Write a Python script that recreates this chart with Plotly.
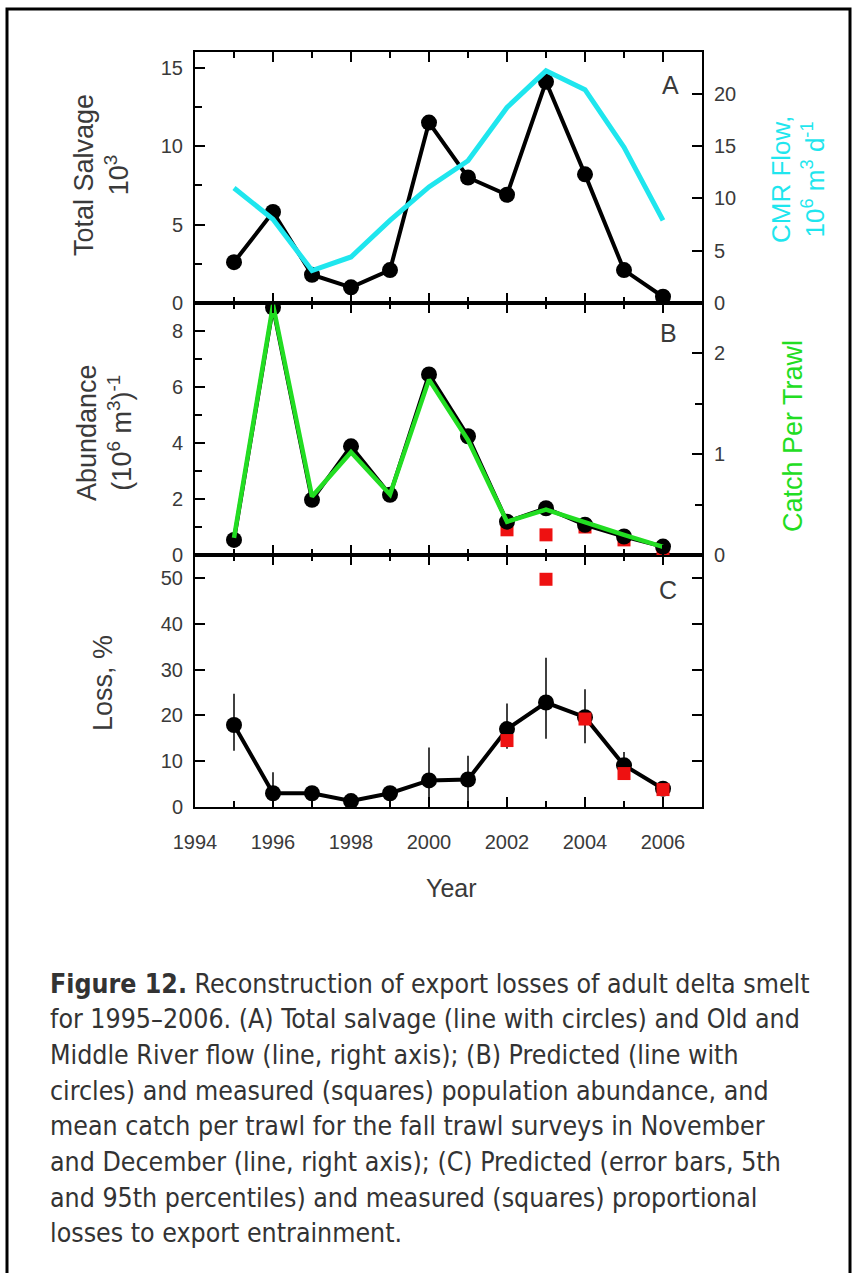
import plotly.graph_objects as go

years = [1995, 1996, 1997, 1998, 1999, 2000, 2001, 2002, 2003, 2004, 2005, 2006]
salvage = [2.6, 5.8, 1.8, 1.0, 2.1, 11.5, 8.0, 6.9, 14.1, 8.2, 2.1, 0.4]
cmr_flow = [11.0, 8.0, 3.1, 4.4, 7.9, 11.1, 13.6, 18.7, 22.2, 20.4, 14.9, 7.9]
abundance_pred = [0.54, 8.84, 1.97, 3.88, 2.15, 6.45, 4.24, 1.19, 1.67, 1.08, 0.66, 0.30]
catch_per_trawl = [0.17, 2.48, 0.58, 1.02, 0.60, 1.74, 1.14, 0.33, 0.45, 0.32, 0.20, 0.08]
meas_years = [2002, 2003, 2004, 2005, 2006]
abundance_meas = [0.90, 0.72, 1.00, 0.54, 0.18]
loss_meas = [14.5, 49.7, 19.2, 7.3, 3.8]
loss_pred = [17.9, 3.0, 3.0, 1.3, 3.0, 5.8, 6.0, 17.0, 22.8, 19.6, 9.1, 4.0]
loss_p95 = [24.7, 7.6, 4.5, 2.0, 4.5, 13.0, 11.2, 22.6, 32.6, 25.7, 12.0, 5.0]
loss_p5 = [12.3, 0.8, 1.5, 0.5, 1.5, 0.5, 0.8, 12.7, 14.9, 13.9, 6.0, 3.0]

caption_lines = [
    "<b>Figure 12.</b> Reconstruction of export losses of adult delta smelt",
    "for 1995–2006. (A) Total salvage (line with circles) and Old and",
    "Middle River flow (line, right axis); (B) Predicted (line with",
    "circles) and measured (squares) population abundance, and",
    "mean catch per trawl for the fall trawl surveys in November",
    "and December (line, right axis); (C) Predicted (error bars, 5th",
    "and 95th percentiles) and measured (squares) proportional",
    "losses to export entrainment.",
]

W, H = 856, 1273
def px(x):
    return x / W
def py(y):
    return 1 - y / H

BLACK = "#000000"
CYAN = "#1fe6ee"
GREEN = "#22dd22"
RED = "#ee1111"
TXT = "#3a3a3a"
FONT = "Liberation Sans, Arial, sans-serif"

fig = go.Figure()

# Panel A
fig.add_trace(go.Scatter(x=years, y=salvage, mode="lines+markers", xaxis="x2", yaxis="y3",
                         line=dict(color=BLACK, width=4), marker=dict(color=BLACK, size=16),
                         name="Total salvage", showlegend=False))
fig.add_trace(go.Scatter(x=years, y=cmr_flow, mode="lines", xaxis="x2", yaxis="y4",
                         line=dict(color=CYAN, width=5), name="CMR flow", showlegend=False))

# Panel B
fig.add_trace(go.Scatter(x=meas_years, y=abundance_meas, mode="markers", xaxis="x3", yaxis="y5",
                         marker=dict(color=RED, size=13, symbol="square"),
                         name="Measured abundance", showlegend=False))
fig.add_trace(go.Scatter(x=years, y=abundance_pred, mode="lines+markers", xaxis="x3", yaxis="y5",
                         line=dict(color=BLACK, width=4), marker=dict(color=BLACK, size=16),
                         name="Predicted abundance", showlegend=False))
fig.add_trace(go.Scatter(x=years, y=catch_per_trawl, mode="lines", xaxis="x3", yaxis="y6",
                         line=dict(color=GREEN, width=4.5), name="Catch per trawl", showlegend=False))

# Panel C
err_plus = [h - p for h, p in zip(loss_p95, loss_pred)]
err_minus = [p - l for p, l in zip(loss_pred, loss_p5)]
fig.add_trace(go.Scatter(x=years, y=loss_pred, mode="lines+markers", xaxis="x", yaxis="y",
                         line=dict(color=BLACK, width=4), marker=dict(color=BLACK, size=16),
                         error_y=dict(type="data", symmetric=False, array=err_plus,
                                      arrayminus=err_minus, color=BLACK, thickness=1.5, width=0),
                         name="Predicted loss", showlegend=False))
fig.add_trace(go.Scatter(x=meas_years, y=loss_meas, mode="markers", xaxis="x", yaxis="y",
                         marker=dict(color=RED, size=13, symbol="square"),
                         name="Measured loss", showlegend=False))

xdom = [px(195), px(702)]
domA = [py(303), py(52)]
domB = [py(555), py(303)]
domC = [py(807), py(555)]

def xax(anchor, labels):
    return dict(domain=xdom, anchor=anchor, range=[1994, 2007], tick0=1994, dtick=2,
                ticks="inside", ticklen=10, tickwidth=1.5, tickcolor=BLACK,
                minor=dict(dtick=1, tick0=1994, ticks="inside", ticklen=6, tickwidth=1.5, tickcolor=BLACK),
                showline=True, linewidth=2, linecolor=BLACK, mirror="ticks",
                showgrid=False, zeroline=False, showticklabels=labels, automargin=False,
                tickfont=dict(family=FONT, size=20, color=TXT), ticklabelstandoff=16)

def yax(dom, rng, dtick, minor_dtick=None, side="left", overlaying=None, anchor="x", mirror=False, labels=True):
    d = dict(range=rng, dtick=dtick, tick0=0, ticks="inside", ticklen=10, tickwidth=1.5, tickcolor=BLACK,
             showline=True, linewidth=2, linecolor=BLACK, mirror=mirror, side=side,
             showgrid=False, zeroline=False, anchor=anchor, showticklabels=labels, automargin=False,
             tickfont=dict(family=FONT, size=20, color=TXT), ticklabelstandoff=6)
    if overlaying:
        d["overlaying"] = overlaying
    else:
        d["domain"] = dom
    if minor_dtick:
        d["minor"] = dict(dtick=minor_dtick, tick0=0, ticks="inside", ticklen=7, tickwidth=1.5, tickcolor=BLACK)
    return d

annotations = []
def ann(text, x, y, size, color=TXT, angle=0, xanchor="center", family=FONT):
    annotations.append(dict(text=text, x=px(x), y=py(y), xref="paper", yref="paper",
                            showarrow=False, textangle=angle, xanchor=xanchor, yanchor="middle",
                            font=dict(family=family, size=size, color=color)))

ann("Total Salvage<br>10<sup>3</sup>", 101, 175, 27, angle=-90)
ann("Abundance<br>(10<sup>6</sup> m<sup>3</sup>)<sup>-1</sup>", 104, 433, 27, angle=-90)
ann("Loss, %", 103, 683, 27, angle=-90)
ann("CMR Flow,<br>10<sup>6</sup> m<sup>3</sup> d<sup>-1</sup>", 798, 180, 26, color=CYAN, angle=-90)
ann("Catch Per Trawl", 793, 436, 27, color=GREEN, angle=-90)
ann("A", 670, 85, 25)
ann("B", 668, 333, 25)
ann("C", 668, 590, 25)
ann("Year", 451, 888, 25)

CAP_FONT = "Liberation Sans Narrow, DejaVu Sans Condensed, Arial Narrow, Roboto, sans-serif"
for i, line in enumerate(caption_lines):
    ann(line, 48, 983 + i * 35.7, 26.5, color="#333333", xanchor="left", family=CAP_FONT)

fig.update_layout(
    width=W, height=H, margin=dict(l=0, r=0, t=0, b=0, autoexpand=False),
    paper_bgcolor="white", plot_bgcolor="white",
    xaxis=xax("y", True),
    xaxis2=xax("y3", False),
    xaxis3=xax("y5", False),
    yaxis=yax(domC, [0, 55], 10, anchor="x", mirror="ticks"),
    yaxis3=yax(domA, [0, 16], 5, minor_dtick=2.5, anchor="x2"),
    yaxis4=yax(None, [0, 24], 5, side="right", overlaying="y3", anchor="x2"),
    yaxis5=yax(domB, [0, 9], 2, minor_dtick=1, anchor="x3"),
    yaxis6=yax(None, [0, 2.5], 1, minor_dtick=0.5, side="right", overlaying="y5", anchor="x3"),
    annotations=annotations,
    shapes=[dict(type="rect", xref="paper", yref="paper", x0=px(7), x1=px(850), y0=-0.05, y1=py(9),
                 line=dict(color=BLACK, width=3), fillcolor="rgba(0,0,0,0)", layer="above")],
)
fig.update_xaxes(matches="x")

fig.write_html("out.html", config={"displayModeBar": False},
               post_script="document.body.style.margin='0';")
